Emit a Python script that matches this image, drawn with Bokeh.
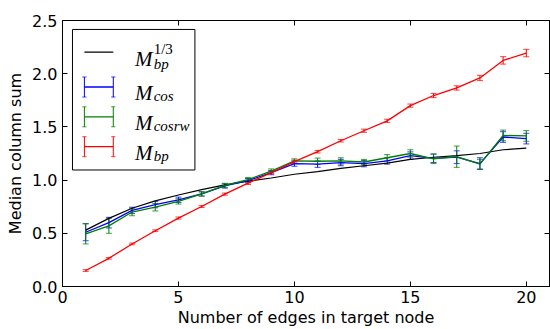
from bokeh.plotting import figure
from bokeh.models import (Range1d, LinearAxis, ColumnDataSource, Whisker, TeeHead,
                          FixedTicker, Label)
from bokeh.embed import file_html
from bokeh.resources import INLINE

# ---------------- data ----------------
edges = [1, 2, 3, 4, 5, 6, 7, 8, 9, 10, 11, 12, 13, 14, 15, 16, 17, 18, 19, 20]

m_bp_cuberoot = [0.53, 0.64, 0.735, 0.805, 0.86, 0.91, 0.955, 0.99, 1.02, 1.055,
                 1.08, 1.11, 1.135, 1.16, 1.195, 1.215, 1.23, 1.25, 1.285, 1.30]

m_cos = [0.51, 0.60, 0.715, 0.77, 0.815, 0.87, 0.945, 0.995, 1.07, 1.155,
         1.15, 1.165, 1.155, 1.18, 1.23, 1.205, 1.215, 1.155, 1.405, 1.39]
m_cos_err = [0.08, 0.05, 0.03, 0.03, 0.025, 0.02, 0.02, 0.02, 0.02, 0.025,
             0.03, 0.03, 0.03, 0.03, 0.035, 0.04, 0.06, 0.055, 0.05, 0.05]

m_cosrw = [0.495, 0.57, 0.70, 0.745, 0.80, 0.87, 0.95, 1.005, 1.085, 1.18,
           1.177, 1.18, 1.17, 1.21, 1.25, 1.20, 1.22, 1.15, 1.42, 1.415]
m_cosrw_err = [0.095, 0.07, 0.035, 0.035, 0.025, 0.02, 0.02, 0.02, 0.02, 0.02,
               0.03, 0.03, 0.025, 0.03, 0.035, 0.045, 0.10, 0.045, 0.05, 0.05]

m_bp = [0.15, 0.265, 0.40, 0.524, 0.643, 0.752, 0.868, 0.971, 1.07, 1.173,
        1.267, 1.37, 1.464, 1.557, 1.70, 1.795, 1.866, 1.96, 2.125, 2.194]
m_bp_err = [0.008, 0.008, 0.008, 0.008, 0.01, 0.01, 0.01, 0.012, 0.012, 0.015,
            0.012, 0.012, 0.015, 0.015, 0.015, 0.02, 0.02, 0.025, 0.035, 0.035]

x_ticks = [0, 5, 10, 15, 20]
x_tick_labels = ["0", "5", "10", "15", "20"]
y_ticks = [0.0, 0.5, 1.0, 1.5, 2.0, 2.5]
y_tick_labels = ["0.0", "0.5", "1.0", "1.5", "2.0", "2.5"]

x_title = "Number of edges in target node"
y_title = "Median column sum"

# ---------------- figure ----------------
FONT = "DejaVu Sans"
FSIZE = "16px"
p = figure(width=550, height=329, x_range=Range1d(0, 21), y_range=Range1d(0, 2.5),
           output_backend="svg", toolbar_location=None,
           min_border_left=62, min_border_right=1, min_border_top=20,
           min_border_bottom=42, background_fill_color="white",
           border_fill_color="white")
p.xgrid.visible = False
p.ygrid.visible = False
p.outline_line_color = "black"
p.outline_line_width = 1
p.outline_line_alpha = 1

def style_axis(ax, ticks, labels):
    ax.ticker = FixedTicker(ticks=ticks)
    ax.major_label_overrides = {t: l for t, l in zip(ticks, labels)}
    ax.major_tick_in = 5
    ax.major_tick_out = 0
    ax.minor_tick_line_color = None
    ax.major_tick_line_color = "black"
    ax.axis_line_color = "black"
    ax.major_label_text_font = FONT
    ax.major_label_text_font_size = FSIZE
    ax.major_label_text_color = "black"
    ax.axis_label_text_font = FONT
    ax.axis_label_text_font_size = FSIZE
    ax.axis_label_text_font_style = "normal"
    ax.axis_label_text_color = "black"

style_axis(p.xaxis[0], x_ticks, x_tick_labels)
style_axis(p.yaxis[0], y_ticks, y_tick_labels)
p.xaxis[0].axis_label = x_title
p.yaxis[0].axis_label = y_title
p.xaxis[0].major_label_standoff = 4
p.xaxis[0].axis_label_standoff = 2
p.yaxis[0].major_label_standoff = 5
p.yaxis[0].axis_label_standoff = 4

def mirror_axis(ticks):
    # tick marks only (as minor ticks, so no tick labels are drawn)
    ax = LinearAxis(ticker=FixedTicker(ticks=[], minor_ticks=ticks))
    ax.minor_tick_in = 5
    ax.minor_tick_out = 0
    ax.minor_tick_line_color = "black"
    ax.major_tick_line_color = None
    ax.axis_line_color = "black"
    ax.major_label_standoff = 0
    return ax

p.add_layout(mirror_axis(x_ticks), "above")
p.add_layout(mirror_axis(y_ticks), "right")

# ---------------- series ----------------
LW = 1.3
p.line(edges, m_bp_cuberoot, line_color="black", line_width=1.2)

def err_series(vals, errs, color):
    src = ColumnDataSource(dict(
        x=edges, y=vals,
        upper=[v + e for v, e in zip(vals, errs)],
        lower=[v - e for v, e in zip(vals, errs)]))
    p.line("x", "y", source=src, line_color=color, line_width=LW)
    w = Whisker(source=src, base="x", upper="upper", lower="lower",
                dimension="height", line_color=color, line_width=1,
                upper_head=TeeHead(size=6, line_color=color, line_width=1, line_alpha=0.75),
                lower_head=TeeHead(size=6, line_color=color, line_width=1, line_alpha=0.75))
    p.add_layout(w)

err_series(m_cos, m_cos_err, "#0000ff")
err_series(m_cosrw, m_cosrw_err, "#008000")
err_series(m_bp, m_bp_err, "#ff0000")

# ---------------- custom legend (layout in data units) ----------------
lg_left, lg_right, lg_bottom, lg_top = 0.43, 5.71, 1.095, 2.416
p.quad(left=[lg_left], right=[lg_right], bottom=[lg_bottom], top=[lg_top],
       fill_color="white", line_color="black", line_width=1)

row_y = [2.203, 1.875, 1.595, 1.314]
row_colors = ["black", "#0000ff", "#008000", "#ff0000"]
h_x0, h_x1, cap_h = 0.944, 2.19, 0.094
for i, (yy, c) in enumerate(zip(row_y, row_colors)):
    p.segment(x0=[h_x0], y0=[yy], x1=[h_x1], y1=[yy], line_color=c, line_width=LW)
    if i > 0:
        for xx in (h_x0, h_x1):
            p.segment(x0=[xx], y0=[yy - cap_h], x1=[xx], y1=[yy + cap_h],
                      line_color=c, line_width=1)
            for yc in (yy - cap_h, yy + cap_h):
                p.segment(x0=[xx - 0.09], y0=[yc], x1=[xx + 0.09], y1=[yc],
                          line_color=c, line_width=1, line_alpha=0.75)

M_FONT = "Liberation Serif"
m_x = 3.13
sub_x = 3.93
main_base = [2.141, 1.814, 1.538, 1.252]
sub_base = [2.095, 1.788, 1.508, 1.222]
subs = ["bp", "cos", "cosrw", "bp"]
for mb, sb, s in zip(main_base, sub_base, subs):
    p.add_layout(Label(x=m_x, y=mb, text="M", text_font=M_FONT,
                       text_font_style="italic", text_font_size="21px",
                       text_baseline="alphabetic", text_color="black"))
    p.add_layout(Label(x=sub_x, y=sb, text=s, text_font=M_FONT,
                       text_font_style="italic", text_font_size="15px",
                       text_baseline="alphabetic", text_color="black"))
p.add_layout(Label(x=sub_x, y=2.235, text="1/3", text_font=M_FONT,
                   text_font_style="normal", text_font_size="15px",
                   text_baseline="alphabetic", text_color="black"))

open("out.html", "w").write(file_html(p, INLINE))
